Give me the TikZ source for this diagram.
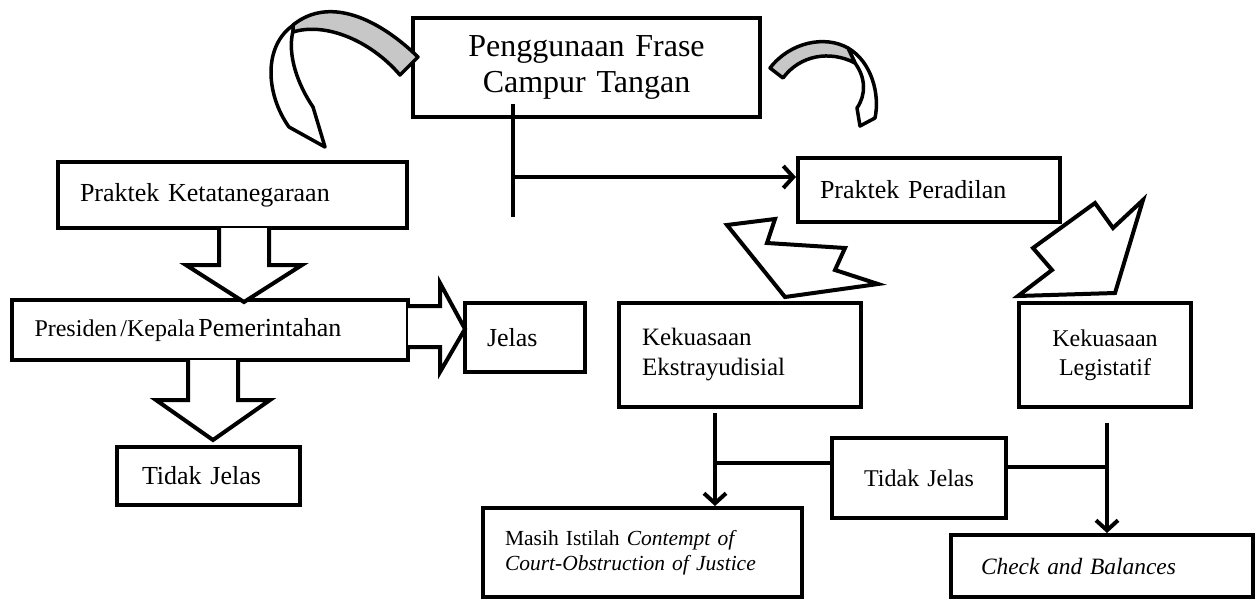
\documentclass[tikz,border=0pt]{standalone}
\usepackage{fontspec}
\setmainfont{Liberation Serif}
\usetikzlibrary{arrows.meta}
\newcommand\myfs[2]{\fontsize{#1pt}{#2pt}\selectfont}
\tikzset{
  box/.style={draw, line width=4pt, rectangle, inner sep=0pt, fill=white},
  conn/.style={line width=4pt},
  arr/.style={line width=4pt, -{Straight Barb[length=10pt,width=22pt]}},
  blockarr/.style={draw, line width=4pt, fill=white, line join=miter},
  ribbon/.style={draw, line width=3.5pt, line join=round},
  ribbongray/.style={ribbon, fill=black!22},
  ribbonwhite/.style={ribbon, fill=white},
}
\begin{document}
\begin{tikzpicture}[x=1pt,y=-1pt]
\useasboundingbox[fill=white] (0,0) rectangle (1259,600);

% boxes
\node[box, minimum width=347pt, minimum height=99pt, text width=330pt, align=center, font=\myfs{32}{36}] (top) at (586.5,67.5) {Penggunaan Frase\\Campur Tangan};
\node[box, minimum width=349pt, minimum height=66pt, text width=305pt, align=left, font=\myfs{26}{30}] (pk) at (232.5,195) {Praktek Ketatanegaraan};
\node[box, minimum width=396.5pt, minimum height=60pt, text width=350.5pt, align=left] (pres) at (209.75,330) {{\myfs{24}{28}Presiden /Kepala }{\myfs{26}{30}Pemerintahan}};
\node[box, minimum width=120pt, minimum height=69pt, text width=76pt, align=left, font=\myfs{26}{30}] (jelas) at (525,337.5) {Jelas};
\node[box, minimum width=183pt, minimum height=58pt, text width=133pt, align=left, font=\myfs{26}{30}] (tj1) at (208.5,476) {Tidak Jelas};
\node[box, minimum width=262pt, minimum height=64pt, text width=218pt, align=left, font=\myfs{26}{30}] (pp) at (929,190) {Praktek Peradilan};
\node[box, minimum width=242pt, minimum height=104pt, text width=196pt, align=left, font=\myfs{25}{30}] (ek) at (740,355) {Kekuasaan\\Ekstrayudisial};
\node[box, minimum width=172pt, minimum height=104pt, text width=150pt, align=center, font=\myfs{24}{29}] (leg) at (1105,355) {Kekuasaan\\Legistatif};
\node[box, minimum width=174pt, minimum height=80pt, text width=150pt, align=center, font=\myfs{24}{28}] (tj2) at (919,478) {Tidak Jelas};
\node[box, minimum width=319pt, minimum height=89pt, text width=275pt, align=left, font=\myfs{21.5}{25}] (masih) at (642.5,552.5) {Masih Istilah \textit{Contempt of}\\\textit{Court-Obstruction of Justice}};
\node[box, minimum width=302pt, minimum height=62pt, text width=242pt, align=left, font=\myfs{23.4}{28}] (cb) at (1102,566) {\textit{Check and Balances}};

% line connectors
\coordinate (t1) at (513,104);
\coordinate (t2) at (513,217);
\coordinate (tj) at (513,177);
\draw[conn] (t1) -- (t2);
\draw[arr] (tj) -- (tj -| pp.west);

\coordinate (e1) at (715,413);
\coordinate (h1) at (715,463);
\draw[arr] (e1) -- (e1 |- masih.north);
\draw[conn] (h1) -- (h1 -| tj2.west);

\coordinate (r1) at (1107,423);
\coordinate (h2) at (1107,467);
\draw[arr] (r1) -- (r1 |- cb.north);
\draw[conn] (h2) -- (h2 -| tj2.east);

% block arrows (left)
\draw[blockarr] (219,228) -- (219,265) -- (186,265) -- (244,302) -- (302,265) -- (269,265) -- (269,228);
\draw[blockarr] (188,360) -- (188,400) -- (156,400) -- (213,440) -- (270,400) -- (238,400) -- (238,360);
\draw[blockarr] (408,306) -- (440,306) -- (440,283) -- (465,329) -- (440,372) -- (440,347) -- (408,347);

% jagged arrows (right)
\draw[blockarr] (727,225) -- (775,219) -- (767,243) -- (845,248) -- (835,270) -- (878,284) -- (785,297) -- cycle;
\draw[blockarr] (1143,200) -- (1113,228) -- (1095,203) -- (1033,248) -- (1052,270) -- (1018,296) -- (1115,293) -- cycle;

% curved arrow (left)
\draw[ribbonwhite] (295,24) .. controls (262,45) and (266,95) .. (289,127) -- (325,147) -- (313,107) .. controls (298,85) and (287,55) .. (293,31) -- cycle;
\draw[ribbongray] (418,57) .. controls (380,20) and (330,-5) .. (293,25) -- (293,32) .. controls (325,22) and (370,40) .. (400,75) -- cycle;

% curved arrow (right)
\draw[ribbonwhite] (848,48) .. controls (872,62) and (880,95) .. (875,118) -- (860,126) -- (857,108) .. controls (866,95) and (866,78) .. (855,63) -- cycle;
\draw[ribbongray] (770,68) .. controls (790,42) and (825,35) .. (848,48) -- (855,63) .. controls (830,50) and (800,55) .. (783,78) -- cycle;
\end{tikzpicture}
\end{document}
